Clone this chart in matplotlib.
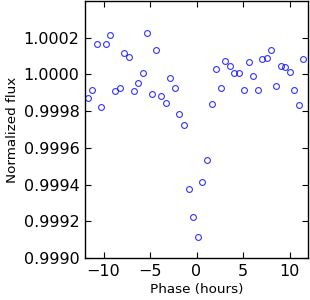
import matplotlib
matplotlib.use("Agg")
import matplotlib.pyplot as plt

# phase in hours and normalized flux
phase = [-11.71, -11.21, -10.74, -10.23, -9.73, -9.26, -8.76, -8.25, -7.78, -7.28,
         -6.77, -6.27, -5.80, -5.30, -4.79, -4.32, -3.82, -3.32, -2.81, -2.34,
         -1.84, -1.33, -0.86, -0.36, 0.14, 0.61, 1.12, 1.62, 2.09, 2.59,
         3.10, 3.60, 4.07, 4.58, 5.08, 5.59, 6.05, 6.56, 7.06, 7.57,
         8.04, 8.54, 9.05, 9.55, 10.02, 10.52, 11.03, 11.50]
flux = [0.999870, 0.999915, 1.000164, 0.999824, 1.000165, 1.000213, 0.999911, 0.999927, 1.000115, 1.000096,
        0.999909, 0.999951, 1.000007, 1.000224, 0.999895, 1.000133, 0.999882, 0.999845, 0.999980, 0.999925,
        0.999785, 0.999722, 0.999375, 0.999222, 0.999116, 0.999413, 0.999535, 0.999840, 1.000027, 0.999927,
        1.000073, 1.000047, 1.000005, 1.000005, 0.999916, 1.000067, 0.999993, 0.999916, 1.000084, 1.000089,
        1.000133, 0.999938, 1.000047, 1.000040, 1.000015, 0.999916, 0.999833, 1.000085]

fig = plt.figure(figsize=(3.1, 3.0), dpi=100)
ax = fig.add_axes([0.274, 0.14, 0.72, 0.857])

ax.plot(phase, flux, 'o', mfc='none', mec='b', mew=0.8, ms=4.2, alpha=0.8)

ax.set_xlim(-12, 12)
ax.set_ylim(0.999, 1.0004)
ax.set_xticks([-10, -5, 0, 5, 10])
ax.set_yticks([0.9990, 0.9992, 0.9994, 0.9996, 0.9998, 1.0000, 1.0002])
ax.set_yticklabels(["%.4f" % v for v in ax.get_yticks()])
ax.tick_params(direction='in', top=True, right=True, length=4, width=0.8, labelsize=11.5)
ax.tick_params(axis='y', pad=4)
ax.tick_params(axis='x', pad=4)
ax.set_xlabel("Phase (hours)", fontsize=9.7, labelpad=3)
ax.set_ylabel("Normalized flux", fontsize=9.7, labelpad=3)
for s in ax.spines.values():
    s.set_linewidth(1.0)

fig.savefig("out.png", dpi=100, facecolor="white")
